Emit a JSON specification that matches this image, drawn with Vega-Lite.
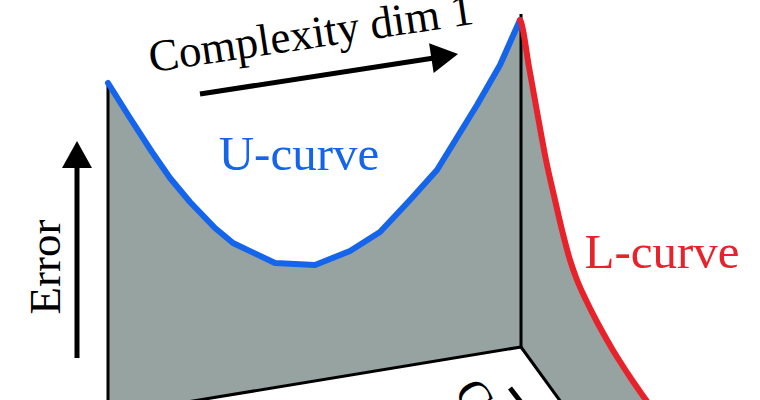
{
  "$schema": "https://vega.github.io/schema/vega-lite/v6.json",
  "width": 760,
  "height": 400,
  "autosize": {"type": "none"},
  "padding": 0,
  "background": "white",
  "config": {"view": {"stroke": null}},
  "datasets": {
    "front": [
      {"x": 108, "y": 83, "yb": 414.1},
      {"x": 130, "y": 118, "yb": 410.5},
      {"x": 152, "y": 152, "yb": 406.9},
      {"x": 170, "y": 178, "yb": 403.9},
      {"x": 190, "y": 202, "yb": 400.6},
      {"x": 215, "y": 228, "yb": 396.5},
      {"x": 233, "y": 243, "yb": 393.5},
      {"x": 275, "y": 263, "yb": 386.6},
      {"x": 315, "y": 265, "yb": 380.0},
      {"x": 350, "y": 251, "yb": 374.2},
      {"x": 380, "y": 232, "yb": 369.3},
      {"x": 410, "y": 200, "yb": 364.3},
      {"x": 437, "y": 170, "yb": 359.9},
      {"x": 477, "y": 105, "yb": 353.3},
      {"x": 500, "y": 65, "yb": 349.5},
      {"x": 520, "y": 20, "yb": 347.2}
    ],
    "side": [
      {"y": 20, "xl": 520, "xr": 520},
      {"y": 22, "xl": 521, "xr": 521},
      {"y": 67, "xl": 521, "xr": 529},
      {"y": 117, "xl": 521, "xr": 538},
      {"y": 160, "xl": 521, "xr": 546},
      {"y": 200, "xl": 521, "xr": 555},
      {"y": 230, "xl": 521, "xr": 562},
      {"y": 260, "xl": 521, "xr": 570},
      {"y": 280, "xl": 521, "xr": 577},
      {"y": 300, "xl": 521, "xr": 586},
      {"y": 320, "xl": 521, "xr": 596},
      {"y": 340, "xl": 521, "xr": 607},
      {"y": 347, "xl": 521, "xr": 611},
      {"y": 360, "xl": 530.4, "xr": 619},
      {"y": 380, "xl": 544.8, "xr": 632},
      {"y": 400, "xl": 559.3, "xr": 646},
      {"y": 420, "xl": 573.7, "xr": 660}
    ],
    "edges": [
      {"x": 108, "y": 83, "x2": 108, "y2": 420},
      {"x": 521, "y": 14, "x2": 521, "y2": 347},
      {"x": 521, "y": 347, "x2": 108, "y2": 415},
      {"x": 521, "y": 347, "x2": 574, "y2": 420}
    ],
    "shafts": [
      {"x": 77, "y": 166, "x2": 77, "y2": 358},
      {"x": 200, "y": 94, "x2": 434, "y2": 58},
      {"x": 510, "y": 388, "x2": 530, "y2": 414}
    ]
  },
  "layer": [
    {
      "data": {"name": "front"},
      "mark": {"type": "area", "color": "#97a3a0", "clip": true, "opacity": 1},
      "encoding": {
        "x": {"field": "x", "type": "quantitative", "scale": {"domain": [0, 760], "nice": false, "zero": false}, "axis": null},
        "y": {"field": "y", "type": "quantitative", "scale": {"domain": [0, 400], "reverse": true, "nice": false, "zero": false}, "axis": null},
        "y2": {"field": "yb"}
      }
    },
    {
      "data": {"name": "side"},
      "mark": {"type": "area", "orient": "horizontal", "interpolate": "monotone", "color": "#97a3a0", "clip": true, "opacity": 1},
      "encoding": {
        "y": {"field": "y", "type": "quantitative", "scale": {"domain": [0, 400], "reverse": true, "nice": false, "zero": false}, "axis": null},
        "x": {"field": "xl", "type": "quantitative", "scale": {"domain": [0, 760], "nice": false, "zero": false}, "axis": null},
        "x2": {"field": "xr"}
      }
    },
    {
      "data": {"name": "edges"},
      "mark": {"type": "rule", "color": "black", "strokeWidth": 3, "clip": true},
      "encoding": {
        "x": {"field": "x", "type": "quantitative", "scale": {"domain": [0, 760], "nice": false, "zero": false}, "axis": null},
        "y": {"field": "y", "type": "quantitative", "scale": {"domain": [0, 400], "reverse": true, "nice": false, "zero": false}, "axis": null},
        "x2": {"field": "x2"},
        "y2": {"field": "y2"}
      }
    },
    {
      "data": {"name": "front"},
      "mark": {"type": "line", "color": "#1464ec", "strokeWidth": 6, "strokeJoin": "round", "strokeCap": "round", "clip": true},
      "encoding": {
        "x": {"field": "x", "type": "quantitative", "scale": {"domain": [0, 760], "nice": false, "zero": false}, "axis": null},
        "y": {"field": "y", "type": "quantitative", "scale": {"domain": [0, 400], "reverse": true, "nice": false, "zero": false}, "axis": null}
      }
    },
    {
      "data": {"name": "side"},
      "mark": {"type": "line", "interpolate": "monotone", "color": "#e8222b", "strokeWidth": 6, "strokeJoin": "round", "strokeCap": "round", "clip": true},
      "encoding": {
        "x": {"field": "xr", "type": "quantitative", "scale": {"domain": [0, 760], "nice": false, "zero": false}, "axis": null},
        "y": {"field": "y", "type": "quantitative", "scale": {"domain": [0, 400], "reverse": true, "nice": false, "zero": false}, "axis": null},
        "order": {"field": "y"}
      }
    },
    {
      "data": {"name": "shafts"},
      "mark": {"type": "rule", "color": "black", "strokeWidth": 5, "clip": true},
      "encoding": {
        "x": {"field": "x", "type": "quantitative", "scale": {"domain": [0, 760], "nice": false, "zero": false}, "axis": null},
        "y": {"field": "y", "type": "quantitative", "scale": {"domain": [0, 400], "reverse": true, "nice": false, "zero": false}, "axis": null},
        "x2": {"field": "x2"},
        "y2": {"field": "y2"}
      }
    },
    {
      "data": {"values": [{"x": 77, "y": 154.5}]},
      "mark": {"type": "point", "shape": "M0,-0.9L1,0.9L-1,0.9Z", "size": 900, "filled": true, "color": "black", "opacity": 1, "strokeWidth": 0, "angle": 0},
      "encoding": {
        "x": {"field": "x", "type": "quantitative", "scale": {"domain": [0, 760], "nice": false, "zero": false}, "axis": null},
        "y": {"field": "y", "type": "quantitative", "scale": {"domain": [0, 400], "reverse": true, "nice": false, "zero": false}, "axis": null}
      }
    },
    {
      "data": {"values": [{"x": 444.7, "y": 56.1}]},
      "mark": {"type": "point", "shape": "M0,-0.9L1,0.9L-1,0.9Z", "size": 900, "filled": true, "color": "black", "opacity": 1, "strokeWidth": 0, "angle": 81.2},
      "encoding": {
        "x": {"field": "x", "type": "quantitative", "scale": {"domain": [0, 760], "nice": false, "zero": false}, "axis": null},
        "y": {"field": "y", "type": "quantitative", "scale": {"domain": [0, 400], "reverse": true, "nice": false, "zero": false}, "axis": null}
      }
    },
    {
      "data": {"values": [{"x": 313, "y": 48, "label": "Complexity dim 1"}]},
      "mark": {"type": "text", "font": "Liberation Serif", "fontSize": 45, "color": "black", "angle": -8.5, "align": "center", "baseline": "alphabetic"},
      "encoding": {
        "x": {"field": "x", "type": "quantitative", "scale": {"domain": [0, 760], "nice": false, "zero": false}, "axis": null},
        "y": {"field": "y", "type": "quantitative", "scale": {"domain": [0, 400], "reverse": true, "nice": false, "zero": false}, "axis": null},
        "text": {"field": "label"}
      }
    },
    {
      "data": {"values": [{"x": 60, "y": 267, "label": "Error"}]},
      "mark": {"type": "text", "font": "Liberation Serif", "fontSize": 45, "color": "black", "angle": -90, "align": "center", "baseline": "alphabetic"},
      "encoding": {
        "x": {"field": "x", "type": "quantitative", "scale": {"domain": [0, 760], "nice": false, "zero": false}, "axis": null},
        "y": {"field": "y", "type": "quantitative", "scale": {"domain": [0, 400], "reverse": true, "nice": false, "zero": false}, "axis": null},
        "text": {"field": "label"}
      }
    },
    {
      "data": {"values": [{"x": 299, "y": 170, "label": "U-curve"}]},
      "mark": {"type": "text", "font": "Liberation Serif", "fontSize": 49, "color": "#1464ec", "align": "center", "baseline": "alphabetic"},
      "encoding": {
        "x": {"field": "x", "type": "quantitative", "scale": {"domain": [0, 760], "nice": false, "zero": false}, "axis": null},
        "y": {"field": "y", "type": "quantitative", "scale": {"domain": [0, 400], "reverse": true, "nice": false, "zero": false}, "axis": null},
        "text": {"field": "label"}
      }
    },
    {
      "data": {"values": [{"x": 662, "y": 268, "label": "L-curve"}]},
      "mark": {"type": "text", "font": "Liberation Serif", "fontSize": 49, "color": "#e8222b", "align": "center", "baseline": "alphabetic"},
      "encoding": {
        "x": {"field": "x", "type": "quantitative", "scale": {"domain": [0, 760], "nice": false, "zero": false}, "axis": null},
        "y": {"field": "y", "type": "quantitative", "scale": {"domain": [0, 400], "reverse": true, "nice": false, "zero": false}, "axis": null},
        "text": {"field": "label"}
      }
    },
    {
      "data": {"values": [{"x": 453, "y": 392, "label": "Complexity dim 2"}]},
      "mark": {"type": "text", "font": "Liberation Serif", "fontSize": 46, "color": "black", "angle": 56, "align": "left", "baseline": "alphabetic"},
      "encoding": {
        "x": {"field": "x", "type": "quantitative", "scale": {"domain": [0, 760], "nice": false, "zero": false}, "axis": null},
        "y": {"field": "y", "type": "quantitative", "scale": {"domain": [0, 400], "reverse": true, "nice": false, "zero": false}, "axis": null},
        "text": {"field": "label"}
      }
    }
  ]
}
